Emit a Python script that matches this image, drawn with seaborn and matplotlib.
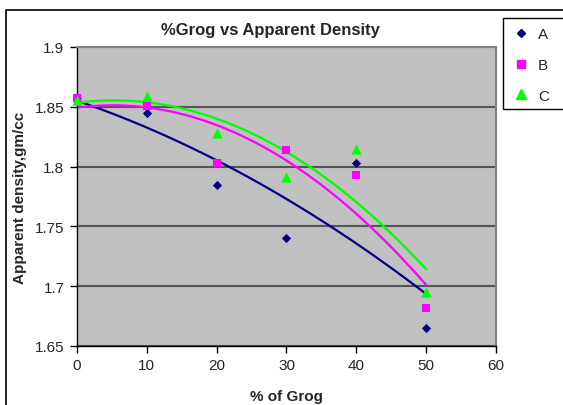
import numpy as np
import pandas as pd
import matplotlib
matplotlib.use("Agg")
import matplotlib.pyplot as plt
import seaborn as sns
from matplotlib.patches import Rectangle

grog = [0, 10, 20, 30, 40, 50]
density_a = [1.857, 1.845, 1.785, 1.740, 1.803, 1.665]
density_b = [1.857, 1.851, 1.803, 1.814, 1.793, 1.682]
density_c = [1.856, 1.859, 1.828, 1.791, 1.815, 1.695]
series_names = ["A", "B", "C"]
colors = {"A": "#000080", "B": "#FF00FF", "C": "#00FF00"}
markers = {"A": "D", "B": "s", "C": "^"}
msizes = {"A": 22, "B": 30, "C": 55}

df = pd.DataFrame({
    "grog": grog * 3,
    "density": density_a + density_b + density_c,
    "series": sum([[s] * len(grog) for s in series_names], []),
})

sns.set_theme(style="white")
plt.rcParams['font.family'] = ['Liberation Sans', 'DejaVu Sans']

W, H = 563, 406
fig = plt.figure(figsize=(W / 100, H / 100), dpi=100)
ax = fig.add_axes([77 / W, 1 - 347 / H, (496 - 77) / W, (347 - 48) / H])
ax.set_facecolor("#C0C0C0")

for s in series_names:
    sub = df[df["series"] == s]
    sns.regplot(data=sub, x="grog", y="density", order=2, ci=None, ax=ax,
                scatter=False, truncate=True,
                line_kws={"color": colors[s], "lw": 1.6, "zorder": 2})
for s in series_names:
    sub = df[df["series"] == s]
    sns.scatterplot(data=sub, x="grog", y="density", ax=ax, marker=markers[s],
                    color=colors[s], s=msizes[s], edgecolor=colors[s],
                    linewidth=0, zorder=3, label=s, legend=False, clip_on=False)

ax.set_xlim(0, 60)
ax.set_ylim(1.65, 1.9)
ax.set_xticks(range(0, 61, 10))
ax.set_yticks([1.65, 1.7, 1.75, 1.8, 1.85, 1.9])
ax.set_yticklabels(["1.65", "1.7", "1.75", "1.8", "1.85", "1.9"])
ax.yaxis.grid(True, color="#555555", lw=1.5, zorder=1)
ax.xaxis.grid(False)
ax.set_axisbelow(True)
for sp in ["top", "right"]:
    ax.spines[sp].set_color("#808080")
    ax.spines[sp].set_linewidth(1.5)
for sp in ["left", "bottom"]:
    ax.spines[sp].set_color("black")
    ax.spines[sp].set_linewidth(1.0)
ax.tick_params(axis="both", which="both", direction="out", length=5, width=1,
               color="black", labelsize=11, left=True, bottom=True, pad=4)
ax.set_xlabel("% of Grog", fontsize=11, fontweight="bold", labelpad=12)
ax.set_ylabel("Apparent density,gm/cc", fontsize=11, fontweight="bold", labelpad=6)
fig.text(270 / W, 1 - 30 / H, "%Grog vs Apparent Density", ha="center",
         va="center", fontsize=12, fontweight="bold")

handles = []
for s in series_names:
    h = plt.Line2D([], [], linestyle="none", marker=markers[s], color=colors[s],
                   markersize={"A": 4.5, "B": 5.5, "C": 7.5}[s])
    handles.append(h)
leg = fig.legend(handles, series_names, loc="upper left",
                 bbox_to_anchor=(503 / W, 1 - 19 / H), frameon=False,
                 fontsize=11, labelspacing=1.1, handletextpad=0.5,
                 borderpad=0.6, handlelength=1.2, borderaxespad=0)

# legend frame extending past the right edge, as in the reference
fig.patches.append(Rectangle((503 / W, 1 - 110 / H), 0.2, 91 / H,
                             transform=fig.transFigure, fill=False,
                             edgecolor="black", lw=1.0))
fig.patches.append(Rectangle((6 / W, -0.1), 1.2, 1 - 11 / H + 0.1,
                             transform=fig.transFigure, fill=False,
                             edgecolor="black", lw=1.2))

fig.savefig("out.png", dpi=100)
